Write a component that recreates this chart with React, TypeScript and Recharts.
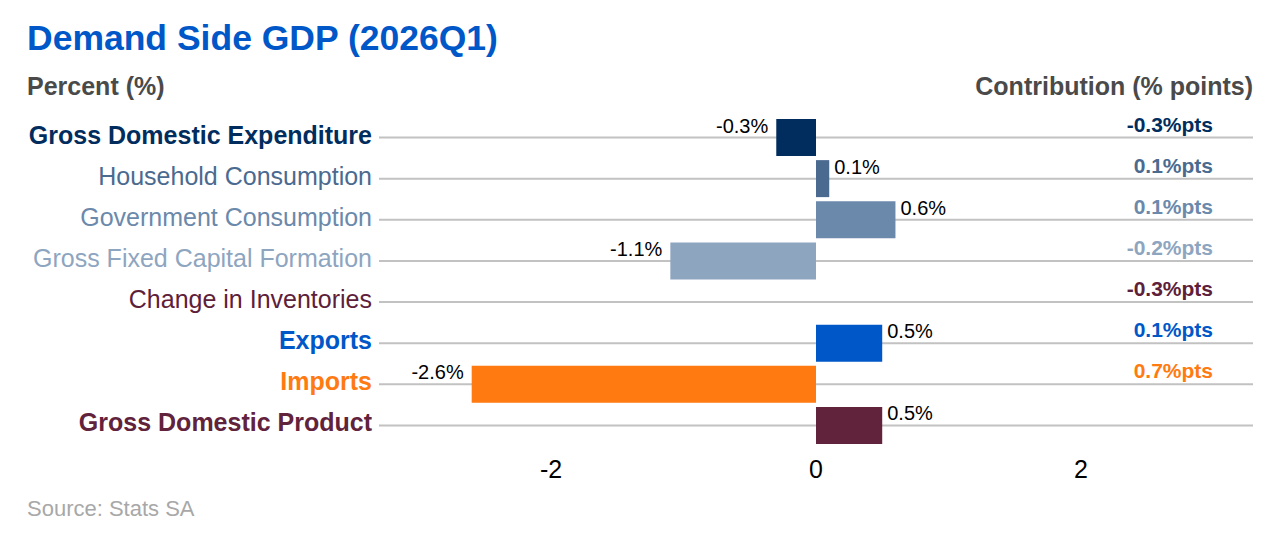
import React from "react";
import { BarChart, Bar, XAxis, YAxis, CartesianGrid, Cell, LabelList } from "recharts";

// Demand-side GDP growth by expenditure component, with each component's
// contribution (in % points) printed at the right edge of its row.

const CATEGORIES = [
  "Gross Domestic Expenditure",
  "Household Consumption",
  "Government Consumption",
  "Gross Fixed Capital Formation",
  "Change in Inventories",
  "Exports",
  "Imports",
  "Gross Domestic Product",
];
const GROWTH: (number | null)[] = [-0.3, 0.1, 0.6, -1.1, null, 0.5, -2.6, 0.5];
const CONTRIBUTION: (number | null)[] = [-0.3, 0.1, 0.1, -0.2, -0.3, 0.1, 0.7, null];
const X_TICKS = [-2, 0, 2];

const COLORS = ["#012d5e", "#4b6a90", "#6b89ab", "#8ea5c0", "#5e2039", "#0057c8", "#ff7a10", "#61223c"];
const BOLD = [true, false, false, false, false, true, true, true];

const FONT = '"Liberation Sans", Arial, Helvetica, sans-serif';
const W = 1279;
const H = 548;
const MARGIN = { top: 117, right: 26, bottom: 62, left: 0 };
const Y_AXIS_W = 379;
const CONTRIB_RIGHT = W - MARGIN.right - 40;

const DATA = CATEGORIES.map((name, i) => ({ name, growth: GROWTH[i], contrib: CONTRIBUTION[i] }));

// one rule through the middle of every category band, nothing on the plot edges
const rowLines = ({ offset }: any) =>
  CATEGORIES.map((_, i) => offset.top + ((i + 0.5) * offset.height) / CATEGORIES.length);

function CategoryTick(props: any) {
  const { x, y, index } = props;
  const c = CONTRIBUTION[index];
  return (
    <g>
      <text
        x={x}
        y={y}
        dy={6}
        textAnchor="end"
        fontFamily={FONT}
        fontSize={25}
        fontWeight={BOLD[index] ? 700 : 400}
        fill={COLORS[index]}
      >
        {CATEGORIES[index]}
      </text>
      {c != null && (
        <text
          x={CONTRIB_RIGHT}
          y={y}
          dy={-6}
          textAnchor="end"
          fontFamily={FONT}
          fontSize={21}
          fontWeight={700}
          fill={COLORS[index]}
        >
          {`${c.toFixed(1)}%pts`}
        </text>
      )}
    </g>
  );
}

function ValueTick(props: any) {
  const { x, y, payload } = props;
  return (
    <text x={x} y={y} dy={32} textAnchor="middle" fontFamily={FONT} fontSize={25} fill="#000">
      {payload.value}
    </text>
  );
}

function BarValueLabel(props: any) {
  const { x, y, width, height, value } = props;
  if (value == null) return null;
  const left = Math.min(x, x + width);
  const right = Math.max(x, x + width);
  const top = Math.min(y, y + height);
  const neg = value < 0;
  return (
    <text
      x={neg ? left - 8 : right + 5}
      y={top + 13.5}
      textAnchor={neg ? "end" : "start"}
      fontFamily={FONT}
      fontSize={20}
      fill="#000"
    >
      {`${value.toFixed(1)}%`}
    </text>
  );
}

export default function App() {
  return (
    <div style={{ position: "absolute", left: 0, top: 0, width: W, height: H, background: "#fff" }}>
      <svg width={W} height={H} style={{ position: "absolute", left: 0, top: 0 }}>
        <text x={27} y={50} fontFamily={FONT} fontSize={35.5} fontWeight={700} fill="#0057c8">
          Demand Side GDP (2026Q1)
        </text>
        <text x={27} y={95} fontFamily={FONT} fontSize={25} fontWeight={700} fill="#4a4a4a">
          Percent (%)
        </text>
        <text x={W - MARGIN.right} y={95} textAnchor="end" fontFamily={FONT} fontSize={25} fontWeight={700} fill="#4a4a4a">
          Contribution (% points)
        </text>
        <text x={27} y={516} fontFamily={FONT} fontSize={22} fill="#a8a8a8">
          Source: Stats SA
        </text>
      </svg>
      <div style={{ position: "absolute", left: 0, top: 0 }}>
        <BarChart width={W} height={H} data={DATA} layout="vertical" margin={MARGIN} barSize={37}>
          <CartesianGrid
            horizontal
            vertical={false}
            stroke="#c2c2c2"
            strokeWidth={2}
            horizontalCoordinatesGenerator={rowLines}
          />
          <XAxis
            type="number"
            domain={[-3.3, 3.3]}
            ticks={X_TICKS}
            height={40}
            axisLine={false}
            tickLine={false}
            tickSize={0}
            tickMargin={0}
            tick={<ValueTick />}
            interval={0}
          />
          <YAxis
            type="category"
            dataKey="name"
            width={Y_AXIS_W}
            axisLine={false}
            tickLine={false}
            tickSize={0}
            tickMargin={7}
            tick={<CategoryTick />}
            interval={0}
          />
          <Bar dataKey="growth" isAnimationActive={false}>
            {DATA.map((d, i) => (
              <Cell key={d.name} fill={COLORS[i]} />
            ))}
            <LabelList dataKey="growth" content={<BarValueLabel />} />
          </Bar>
        </BarChart>
      </div>
    </div>
  );
}
